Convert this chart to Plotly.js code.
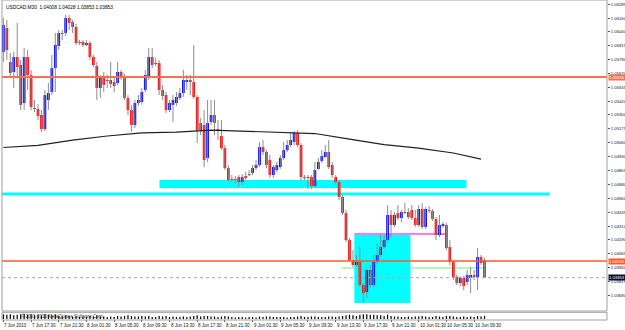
<!DOCTYPE html>
<html><head><meta charset="utf-8">
<script src="https://cdn.plot.ly/plotly-3.0.1.min.js"></script>
<style>html,body{margin:0;padding:0;background:#fff;}#chart{width:625px;height:330px;}</style>
</head><body><div id="chart"></div>
<script>
const symbolTitle = "USDCAD,M30  1.04008 1.04028 1.03853 1.03853";

const opens = [1.05859,1.06072,1.05770,1.05681,1.05814,1.05743,1.05405,1.05814,1.05654,1.05361,
1.05352,1.05299,1.05174,1.05432,1.05503,1.05716,1.05912,1.06028,1.06028,1.06161,
1.06125,1.06081,1.05948,1.05948,1.05921,1.05939,1.05814,1.05734,1.05539,1.05645,
1.05610,1.05610,1.05592,1.05583,1.05681,1.05636,1.05450,1.05343,1.05210,1.05405,
1.05414,1.05521,1.05636,1.05814,1.05761,1.05761,1.05521,1.05476,1.05343,1.05388,
1.05405,1.05450,1.05494,1.05592,1.05610,1.05592,1.05459,1.05228,1.05210,1.04916,
1.05236,1.05299,1.05174,1.05112,1.05005,1.04827,1.04730,1.04730,1.04747,1.04703,
1.04756,1.04774,1.04783,1.04827,1.04854,1.05014,1.04970,1.04899,1.04765,1.04810,
1.04836,1.04916,1.04987,1.05032,1.05059,1.05139,1.05032,1.04747,1.04747,1.04747,
1.04667,1.04819,1.04890,1.04925,1.04970,1.04854,1.04747,1.04703,1.04570,1.04427,
1.04187,1.04009,1.03965,1.03992,1.03787,1.03725,1.03921,1.03787,1.03992,1.04054,
1.04125,1.04187,1.04410,1.04321,1.04427,1.04383,1.04436,1.04436,1.04454,1.04383,
1.04321,1.04463,1.04303,1.04454,1.04445,1.04374,1.04232,1.04312,1.04321,1.04125,
1.03992,1.03858,1.03805,1.03850,1.03814,1.03850,1.03876,1.03858,1.04036,1.04008];

const highs = [1.06161,1.06143,1.05850,1.05859,1.06117,1.05788,1.05894,1.05876,1.05699,1.05432,
1.05396,1.05343,1.05521,1.05583,1.05832,1.06028,1.06054,1.06054,1.06188,1.06188,
1.06143,1.06108,1.05965,1.05965,1.05965,1.05957,1.05832,1.05770,1.05654,1.05681,
1.05654,1.05770,1.05628,1.05770,1.05699,1.05663,1.05476,1.05388,1.05432,1.05476,
1.05539,1.05699,1.05894,1.05894,1.05805,1.05788,1.05565,1.05503,1.05432,1.05476,
1.05503,1.05539,1.05699,1.05654,1.05654,1.05921,1.05476,1.05272,1.05343,1.05432,
1.05432,1.05432,1.05254,1.05254,1.05032,1.04854,1.04765,1.04756,1.04765,1.04774,
1.04792,1.04810,1.04854,1.04899,1.05059,1.05076,1.04987,1.04943,1.04854,1.04881,
1.04943,1.05059,1.05076,1.05148,1.05156,1.05165,1.05050,1.04765,1.04765,1.04765,
1.04881,1.04916,1.04987,1.05032,1.05076,1.04881,1.04765,1.04721,1.04587,1.04454,
1.04205,1.04098,1.04054,1.04125,1.03805,1.03938,1.03965,1.04054,1.04161,1.04232,
1.04232,1.04499,1.04454,1.04436,1.04499,1.04454,1.04516,1.04472,1.04499,1.04454,
1.04499,1.04516,1.04481,1.04490,1.04463,1.04392,1.04410,1.04347,1.04339,1.04187,
1.04009,1.03876,1.03867,1.03867,1.03921,1.03947,1.03921,1.04116,1.04054,1.04028];

const lows = [1.05770,1.05788,1.05628,1.05539,1.05636,1.05343,1.05343,1.05521,1.05343,1.05325,
1.05254,1.05148,1.05156,1.05343,1.05476,1.05503,1.05876,1.05965,1.06001,1.06054,
1.06028,1.05921,1.05921,1.05903,1.05912,1.05788,1.05725,1.05432,1.05450,1.05503,
1.05539,1.05539,1.05503,1.05565,1.05610,1.05432,1.05299,1.05148,1.05183,1.05379,
1.05388,1.05503,1.05610,1.05716,1.05734,1.05476,1.05432,1.05316,1.05325,1.05236,
1.05379,1.05432,1.05459,1.05521,1.05476,1.05441,1.05050,1.05121,1.04836,1.04881,
1.05210,1.05121,1.05076,1.04987,1.04810,1.04703,1.04703,1.04694,1.04659,1.04676,
1.04721,1.04756,1.04765,1.04810,1.04836,1.04943,1.04827,1.04739,1.04739,1.04792,
1.04819,1.04899,1.04970,1.05014,1.05032,1.05014,1.04721,1.04721,1.04641,1.04641,
1.04650,1.04810,1.04872,1.04916,1.04819,1.04739,1.04676,1.04543,1.04410,1.04170,
1.03992,1.03947,1.03947,1.03770,1.03627,1.03672,1.03761,1.03770,1.03974,1.04036,
1.04107,1.04170,1.04214,1.04303,1.04365,1.04347,1.04419,1.04374,1.04365,1.04303,
1.04303,1.04285,1.04285,1.04427,1.04356,1.04187,1.04214,1.04294,1.04098,1.03965,
1.03832,1.03787,1.03778,1.03743,1.03787,1.03716,1.03832,1.03743,1.03965,1.03853];

const closes = [1.06099,1.05876,1.05672,1.05814,1.05725,1.05388,1.05814,1.05654,1.05370,1.05352,
1.05290,1.05174,1.05476,1.05494,1.05716,1.05921,1.06028,1.06019,1.06161,1.06117,
1.06081,1.05939,1.05939,1.05921,1.05939,1.05814,1.05743,1.05539,1.05628,1.05565,
1.05601,1.05574,1.05556,1.05681,1.05636,1.05450,1.05343,1.05210,1.05405,1.05432,
1.05503,1.05654,1.05814,1.05743,1.05752,1.05521,1.05468,1.05343,1.05405,1.05432,
1.05459,1.05494,1.05610,1.05610,1.05592,1.05459,1.05165,1.05165,1.04899,1.05228,
1.05299,1.05228,1.05165,1.05005,1.04827,1.04721,1.04721,1.04721,1.04703,1.04747,
1.04739,1.04765,1.04827,1.04854,1.05014,1.04970,1.04854,1.04765,1.04836,1.04854,
1.04916,1.04987,1.05032,1.05076,1.05139,1.05032,1.04747,1.04739,1.04739,1.04667,
1.04810,1.04881,1.04934,1.04970,1.04836,1.04765,1.04703,1.04570,1.04427,1.04187,
1.04009,1.03965,1.03992,1.03787,1.03716,1.03921,1.03787,1.03992,1.04054,1.04125,
1.04187,1.04410,1.04321,1.04410,1.04383,1.04436,1.04427,1.04392,1.04383,1.04321,
1.04463,1.04303,1.04463,1.04445,1.04374,1.04232,1.04321,1.04330,1.04116,1.03992,
1.03858,1.03805,1.03850,1.03778,1.03876,1.03876,1.03858,1.04036,1.03983,1.03853];

const volumes = [9,8,9,7,8,9,10,8,9,7,8,7,9,8,7,9,6,5,7,6,
5,6,4,5,4,6,5,7,5,5,4,5,4,6,5,6,7,6,5,5,
6,5,6,4,4,6,5,6,4,5,4,4,5,4,5,6,7,5,6,6,
5,5,4,5,6,5,4,3,4,4,3,4,4,3,5,4,5,5,4,4,
4,4,3,4,4,5,6,4,4,5,5,4,4,4,5,5,4,5,6,7,
8,7,6,8,9,9,8,8,7,7,6,8,6,5,5,4,4,5,4,5,
5,6,5,4,4,6,5,4,6,6,5,4,4,5,4,5,4,6,5,6];

const timeTickIdx = [0,8,16,24,32,40,48,56,64,72,80,88,96,104,112,120,128,136];
const timeTickText = ["7 Jun 2010","7 Jun 17:30","7 Jun 21:30","8 Jun 01:30","8 Jun 05:30","8 Jun 09:30",
"8 Jun 13:30","8 Jun 17:30","8 Jun 21:30","9 Jun 01:30","9 Jun 05:30","9 Jun 09:30",
"9 Jun 13:30","9 Jun 17:30","9 Jun 21:30","10 Jun 01:30","10 Jun 05:30","10 Jun 09:30"];

const priceTicks = ["1.03690","1.03815","1.03940","1.04065","1.04190","1.04310","1.04435","1.04560",
"1.04680","1.04805","1.04930","1.05050","1.05175","1.05300","1.05420","1.05545","1.05670",
"1.05790","1.05915","1.06040","1.06160","1.06285"];

const maIdx = [0,10,20,30,40,50,60,70,80,90,100,110,120,130,138];
const maVal = [1.05010,1.05028,1.05075,1.05112,1.05139,1.05147,1.05165,1.05156,1.05143,1.05134,1.05085,1.05036,1.05005,1.04961,1.04907];

const resistanceLevel = [1.05636];
const supportLevel = [1.04000];
const bidLevel = [1.03853];
const zoneAIdx = [45.1, 133.8], zoneAPrice = [1.04649, 1.04720];
const cyanLineIdx = [-0.4, 157.8], cyanLinePrice = [1.04583, 1.04610];
const zoneBIdx = [101.4, 117.6], zoneBPrice = [1.03627, 1.04241];
const magentaIdx = [101.4, 127.7], magentaPrice = [1.04241];
const greenIdx = [97.7, 139.6], greenPrice = [1.03938];

const idx = opens.map((_, i) => i);
const wx = [], wy = [];
idx.forEach(i => { wx.push(i, i, null); wy.push(lows[i], highs[i], null); });
const minBody = 0.00009;
const bodyH = idx.map(i => { const d = closes[i] - opens[i]; return Math.abs(d) < minBody ? (d >= 0 ? minBody : -minBody) : d; });
const bodyC = idx.map(i => closes[i] > opens[i] ? '#0000ff' : (closes[i] < opens[i] ? '#ff0000' : '#808080'));

const F = 'Liberation Sans Narrow, Liberation Sans, Arial, sans-serif';
const traces = [
  {type:'scatter', mode:'lines', x:wx, y:wy, line:{color:'#8c8c8c', width:1}, hoverinfo:'skip', xaxis:'x', yaxis:'y'},
  {type:'bar', x:idx, base:opens, y:bodyH, width:0.78, marker:{color:bodyC, line:{width:0}}, xaxis:'x', yaxis:'y'},
  {type:'scatter', mode:'lines', x:maIdx, y:maVal, line:{color:'#202020', width:1.2}, xaxis:'x', yaxis:'y'},
  {type:'bar', x:idx, y:volumes, width:0.35, marker:{color:'#000000', line:{width:0}}, xaxis:'x', yaxis:'y2'}
];

const mainBottom = 0.028;
const shapes = [
  {type:'rect', xref:'x', yref:'y', x0:zoneAIdx[0], x1:zoneAIdx[1], y0:zoneAPrice[0], y1:zoneAPrice[1], fillcolor:'#00ffff', line:{width:0}, layer:'below'},
  {type:'rect', xref:'x', yref:'y', x0:cyanLineIdx[0], x1:cyanLineIdx[1], y0:cyanLinePrice[0], y1:cyanLinePrice[1], fillcolor:'#00ffff', line:{width:0}, layer:'below'},
  {type:'line', xref:'x', yref:'y', x0:greenIdx[0], x1:greenIdx[1], y0:greenPrice[0], y1:greenPrice[0], line:{color:'#b8f5b8', width:2}, layer:'below'},
  {type:'rect', xref:'x', yref:'y', x0:zoneBIdx[0], x1:zoneBIdx[1], y0:zoneBPrice[0], y1:zoneBPrice[1], fillcolor:'#00ffff', line:{width:0}, layer:'below'},
  {type:'line', xref:'x', yref:'y', x0:magentaIdx[0], x1:magentaIdx[1], y0:magentaPrice[0], y1:magentaPrice[0], line:{color:'#ff77ff', width:2}, layer:'below'},
  {type:'line', xref:'paper', yref:'y', x0:0, x1:1, y0:resistanceLevel[0], y1:resistanceLevel[0], line:{color:'#f2734f', width:2}},
  {type:'line', xref:'paper', yref:'y', x0:0, x1:1, y0:supportLevel[0], y1:supportLevel[0], line:{color:'#ff5a28', width:1.5}},
  {type:'line', xref:'paper', yref:'y', x0:0, x1:1, y0:bidLevel[0], y1:bidLevel[0], line:{color:'#a0a8b8', width:1, dash:'dot'}},
  {type:'rect', xref:'paper', yref:'paper', x0:0, x1:1, y0:mainBottom, y1:1, line:{color:'#a0a0a0', width:1}},
  {type:'rect', xref:'paper', yref:'paper', x0:0, x1:1, y0:0, y1:0.024, line:{color:'#a0a0a0', width:1}}
];

const tag = (v, bg) => ({xref:'paper', yref:'y', x:1, y:v, xanchor:'left', yanchor:'middle', xshift:1, text:v.toFixed(5),
  showarrow:false, bgcolor:bg, borderpad:0, font:{family:F, size:4.2, color:'#ffffff'}});

const timeLabels = timeTickIdx.map((t, k) => ({xref:'x', yref:'paper', x:t, y:-0.0175, xanchor:'left', yanchor:'middle',
  text:timeTickText[k], showarrow:false, borderpad:0, font:{family:F, size:4.5, color:'#111'}}));

const annotations = [
  {xref:'paper', yref:'paper', x:0, y:1, xanchor:'left', yanchor:'top', xshift:2, yshift:-3, text:symbolTitle, showarrow:false, font:{family:F, size:4.8, color:'#000'}},
  {xref:'paper', yref:'paper', x:0.172, y:0.0125, xanchor:'right', yanchor:'middle', text:'© 2001-2010 MetaQuotes Software Corp.', showarrow:false, font:{family:F, size:4.5, color:'#333'}},
  tag(resistanceLevel[0], '#f2734f'),
  tag(supportLevel[0], '#ff5a28'),
  tag(bidLevel[0], '#0a0a30')
].concat(timeLabels);

const layout = {
  width:625, height:330,
  margin:{l:2, r:18, t:0, b:10, pad:0},
  paper_bgcolor:'#ffffff', plot_bgcolor:'#ffffff',
  showlegend:false, hovermode:false, barmode:'overlay',
  xaxis:{range:[-0.4, 174.4], anchor:'y2', showgrid:false, zeroline:false, showline:false,
    tickmode:'array', tickvals:timeTickIdx, showticklabels:false, ticks:'outside', ticklen:2, tickcolor:'#555'},
  yaxis:{domain:[mainBottom, 1], range:[1.03556, 1.06321], side:'right', anchor:'x', showgrid:false, zeroline:false,
    tickmode:'array', tickvals:priceTicks.map(Number), ticktext:priceTicks, ticks:'outside', ticklen:2, tickcolor:'#555',
    ticklabelstandoff:0, tickfont:{family:F, size:4.2, color:'#111'}},
  yaxis2:{domain:[0.003, 0.021], range:[0, 11], anchor:'x', showticklabels:false, showgrid:false, zeroline:false, ticks:''},
  shapes:shapes, annotations:annotations
};

Plotly.newPlot('chart', traces, layout, {staticPlot:true, displayModeBar:false});
</script></body></html>
